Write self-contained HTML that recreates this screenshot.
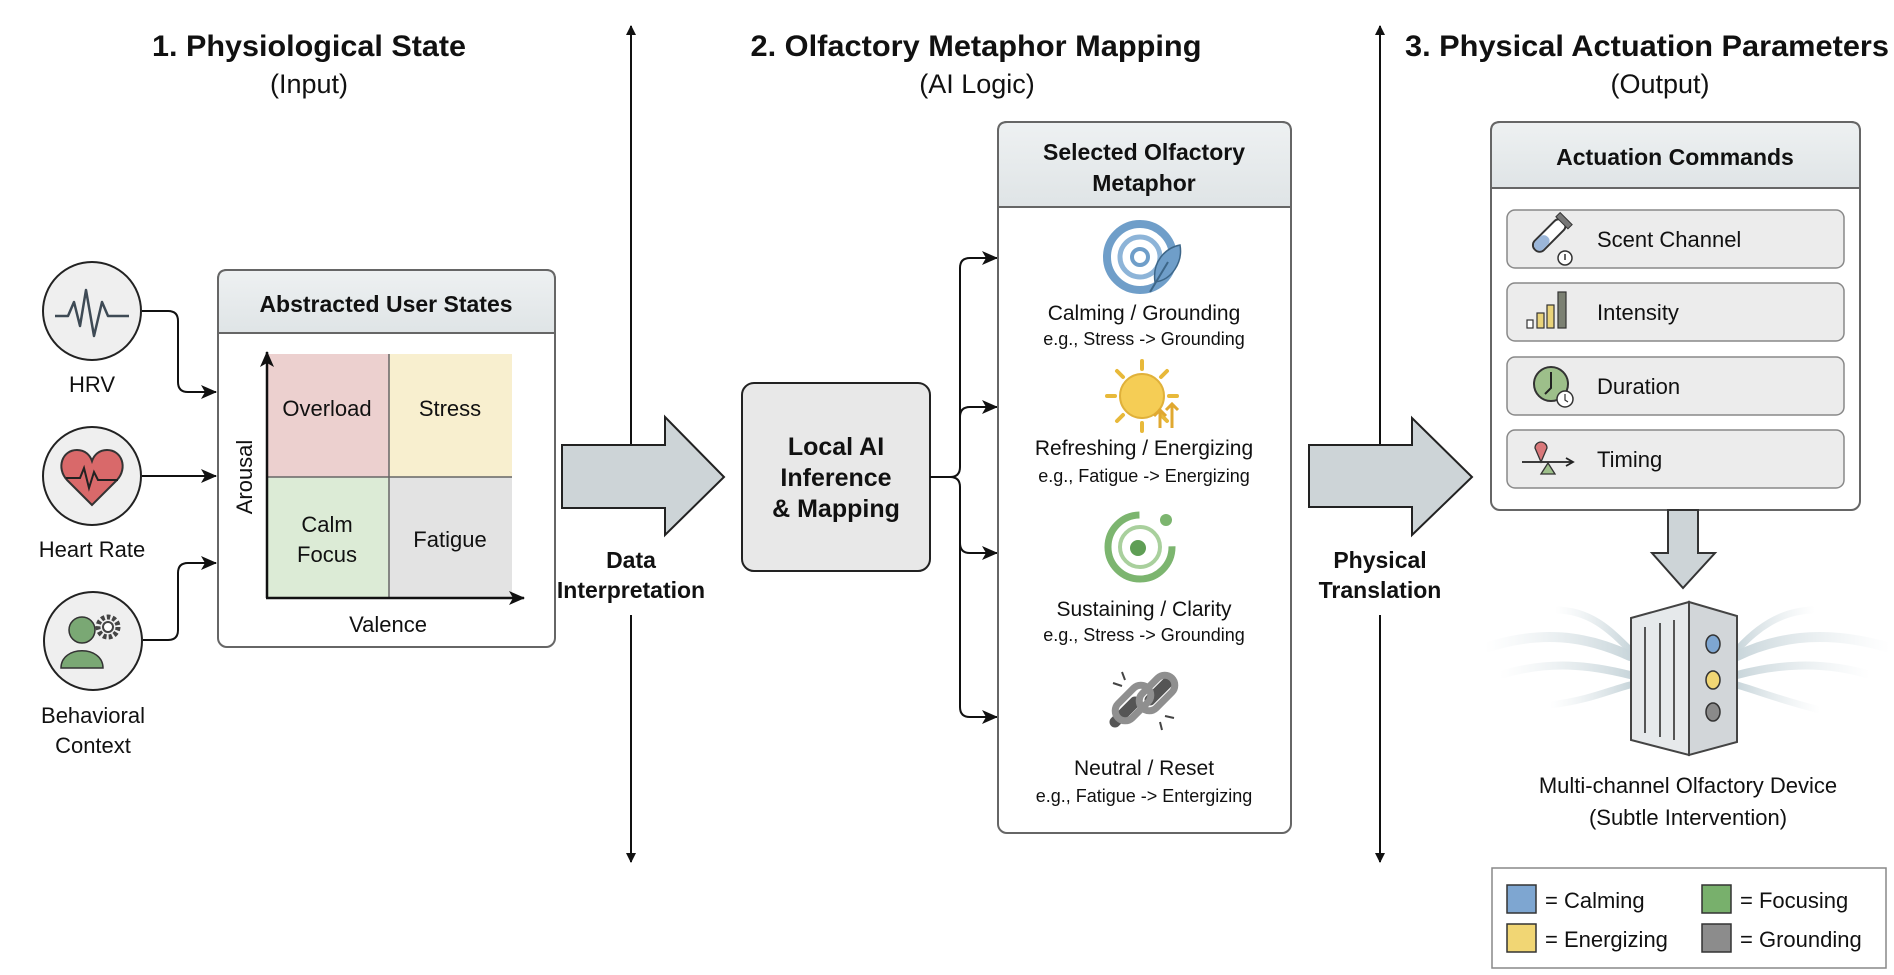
<!DOCTYPE html>
<html><head><meta charset="utf-8"><style>
html,body{margin:0;padding:0;background:#fff;}
svg{display:block;font-family:"Liberation Sans",Arial,sans-serif;}
</style></head><body>
<svg width="1894" height="975" viewBox="0 0 1894 975" xmlns="http://www.w3.org/2000/svg">
<defs>
<marker id="ah" markerWidth="10" markerHeight="10" refX="9" refY="5" orient="auto" markerUnits="userSpaceOnUse"><path d="M0,0 L10,5 L0,10 Z" fill="#111"/></marker>
<marker id="ahb" markerWidth="16" markerHeight="14" refX="15" refY="7" orient="auto" markerUnits="userSpaceOnUse"><path d="M0,0 L16,7 L0,14 L4,7 Z" fill="#111"/></marker>
<linearGradient id="hg" x1="0" y1="0" x2="0" y2="1"><stop offset="0" stop-color="#eef1f2"/><stop offset="1" stop-color="#dfe4e6"/></linearGradient>
<linearGradient id="wv" x1="0" y1="0" x2="1" y2="0"><stop offset="0" stop-color="#dfe7ea" stop-opacity="0"/><stop offset="1" stop-color="#c9d6db"/></linearGradient>
<linearGradient id="wv2" x1="1" y1="0" x2="0" y2="0"><stop offset="0" stop-color="#dfe7ea" stop-opacity="0"/><stop offset="1" stop-color="#c9d6db"/></linearGradient>
</defs>

<!-- Titles -->
<g fill="#111" text-anchor="middle">
<text x="309" y="56" font-size="30" font-weight="bold" textLength="314" lengthAdjust="spacingAndGlyphs">1. Physiological State</text>
<text x="309" y="93" font-size="27">(Input)</text>
<text x="976" y="56" font-size="30" font-weight="bold" textLength="451" lengthAdjust="spacingAndGlyphs">2. Olfactory Metaphor Mapping</text>
<text x="977" y="93" font-size="27">(AI Logic)</text>
<text x="1647" y="56" font-size="30" font-weight="bold" textLength="484" lengthAdjust="spacingAndGlyphs">3. Physical Actuation Parameters</text>
<text x="1660" y="93" font-size="27">(Output)</text>
</g>

<!-- Dividers -->
<g stroke="#111" stroke-width="2" fill="none">
<line x1="631" y1="445" x2="631" y2="26" marker-end="url(#ah)"/>
<line x1="631" y1="615" x2="631" y2="862" marker-end="url(#ah)"/>
<line x1="1380" y1="445" x2="1380" y2="26" marker-end="url(#ah)"/>
<line x1="1380" y1="615" x2="1380" y2="862" marker-end="url(#ah)"/>
</g>

<!-- Input circles -->
<g stroke="#222" stroke-width="2">
<circle cx="92" cy="311" r="49" fill="#efefef"/>
<circle cx="92" cy="476" r="49" fill="#efefef"/>
<circle cx="93" cy="641" r="49" fill="#efefef"/>
</g>
<polyline points="55,316 68,316 74,302 80,326 86,290 94,336 102,302 108,316 129,316" fill="none" stroke="#3e4a55" stroke-width="2.5" stroke-linejoin="round"/>
<path d="M92,505 L67,480 C56,468 62,450 77,450 C85,450 90,455 92,461 C94,455 99,450 107,450 C122,450 128,468 117,480 Z" fill="#d9696a" stroke="#333" stroke-width="2"/>
<polyline points="66,478 80,478 84,468 89,488 94,472 98,480 118,480" fill="none" stroke="#222" stroke-width="2"/>
<circle cx="82" cy="630" r="13" fill="#7aa874" stroke="#333" stroke-width="1.5"/>
<path d="M61,668 C61,645 103,645 103,668 Z" fill="#7aa874" stroke="#333" stroke-width="1.5"/>
<circle cx="108" cy="627" r="10" fill="none" stroke="#444" stroke-width="5" stroke-dasharray="3.5 2.2"/>
<circle cx="108" cy="627" r="5" fill="#fff" stroke="#444" stroke-width="2"/>
<g fill="#111" font-size="22" text-anchor="middle">
<text x="92" y="392">HRV</text>
<text x="92" y="557">Heart Rate</text>
<text x="93" y="723">Behavioral</text>
<text x="93" y="753">Context</text>
</g>
<g stroke="#111" stroke-width="2" fill="none">
<path d="M142,311 L168,311 Q178,311 178,321 L178,382 Q178,392 188,392 L216,392" marker-end="url(#ahb)"/>
<line x1="142" y1="476" x2="216" y2="476" marker-end="url(#ahb)"/>
<path d="M143,640 L168,640 Q178,640 178,630 L178,573 Q178,563 188,563 L216,563" marker-end="url(#ahb)"/>
</g>

<!-- Abstracted User States -->
<rect x="218" y="270" width="337" height="377" rx="9" fill="#fff" stroke="#666" stroke-width="2"/>
<path d="M218,333 L218,279 Q218,270 227,270 L546,270 Q555,270 555,279 L555,333 Z" fill="url(#hg)" stroke="#666" stroke-width="2"/>
<text x="386" y="312" font-size="23" font-weight="bold" text-anchor="middle" fill="#111">Abstracted User States</text>
<rect x="267" y="354" width="122" height="123" fill="#ecd0cf"/>
<rect x="389" y="354" width="123" height="123" fill="#f8efcf"/>
<rect x="267" y="477" width="122" height="121" fill="#dcebd6"/>
<rect x="389" y="477" width="123" height="121" fill="#e3e3e3"/>
<line x1="389" y1="354" x2="389" y2="598" stroke="#666" stroke-width="1.5"/>
<line x1="267" y1="477" x2="512" y2="477" stroke="#666" stroke-width="1.5"/>
<g stroke="#111" stroke-width="2.5" fill="none">
<line x1="267" y1="598" x2="267" y2="352" marker-end="url(#ahb)"/>
<line x1="266" y1="598" x2="524" y2="598" marker-end="url(#ahb)"/>
</g>
<g fill="#111" font-size="22" text-anchor="middle">
<text x="327" y="416">Overload</text>
<text x="450" y="416">Stress</text>
<text x="327" y="532">Calm</text>
<text x="327" y="562">Focus</text>
<text x="450" y="547">Fatigue</text>
<text x="388" y="632">Valence</text>
<text transform="translate(252,477) rotate(-90)">Arousal</text>
</g>

<!-- Big arrow 1 -->
<path d="M562,445 L665,445 L665,417 L724,477 L665,535 L665,508 L562,508 Z" fill="#cdd4d7" stroke="#222" stroke-width="2"/>
<g fill="#111" font-size="23" font-weight="bold" text-anchor="middle">
<text x="631" y="568">Data</text>
<text x="631" y="598">Interpretation</text>
</g>

<!-- Local AI box -->
<rect x="742" y="383" width="188" height="188" rx="12" fill="#e8e8e8" stroke="#222" stroke-width="2"/>
<g fill="#111" font-size="25" font-weight="bold" text-anchor="middle">
<text x="836" y="455">Local AI</text>
<text x="836" y="486">Inference</text>
<text x="836" y="517">&amp; Mapping</text>
</g>
<g stroke="#111" stroke-width="2" fill="none">
<line x1="930" y1="477" x2="950" y2="477"/>
<path d="M950,477 Q960,477 960,467 L960,268 Q960,258 970,258 L997,258" marker-end="url(#ahb)"/>
<path d="M960,417 Q960,407 970,407 L997,407" marker-end="url(#ahb)"/>
<path d="M950,477 Q960,477 960,487 L960,543 Q960,553 970,553 L997,553" marker-end="url(#ahb)"/>
<path d="M960,707 Q960,717 970,717 L997,717" marker-end="url(#ahb)"/>
<line x1="960" y1="487" x2="960" y2="707"/>
</g>

<!-- Selected Olfactory Metaphor -->
<rect x="998" y="122" width="293" height="711" rx="9" fill="#fff" stroke="#666" stroke-width="2"/>
<path d="M998,207 L998,131 Q998,122 1007,122 L1282,122 Q1291,122 1291,131 L1291,207 Z" fill="url(#hg)" stroke="#666" stroke-width="2"/>
<g fill="#111" font-size="23" font-weight="bold" text-anchor="middle">
<text x="1144" y="160">Selected Olfactory</text>
<text x="1144" y="191">Metaphor</text>
</g>
<!-- calming icon -->
<circle cx="1140" cy="257" r="33" fill="none" stroke="#6f9ec9" stroke-width="8"/>
<circle cx="1140" cy="257" r="20" fill="none" stroke="#8db4d8" stroke-width="5"/>
<circle cx="1140" cy="257" r="8" fill="none" stroke="#6f9ec9" stroke-width="4"/>
<path d="M1155,282 C1152,262 1165,248 1180,245 C1183,262 1172,280 1155,282 Z" fill="#6f9ec9" stroke="#3d6688" stroke-width="1.5"/>
<line x1="1150" y1="292" x2="1168" y2="262" stroke="#3d6688" stroke-width="2"/>
<!-- sun -->
<g stroke="#e8b93a" stroke-width="4" stroke-linecap="round">
<line x1="1142" y1="361" x2="1142" y2="369"/><line x1="1142" y1="423" x2="1142" y2="431"/>
<line x1="1107" y1="396" x2="1115" y2="396"/><line x1="1169" y1="396" x2="1177" y2="396"/>
<line x1="1117" y1="371" x2="1123" y2="377"/><line x1="1161" y1="415" x2="1167" y2="421"/>
<line x1="1167" y1="371" x2="1161" y2="377"/><line x1="1123" y1="415" x2="1117" y2="421"/>
</g>
<circle cx="1142" cy="396" r="22" fill="#f5cd55" stroke="#e0b13a" stroke-width="2"/>
<g stroke="#e0a830" stroke-width="3" fill="none"><path d="M1160,428 L1160,410 M1154,416 L1160,410 L1166,416"/><path d="M1172,428 L1172,404 M1166,410 L1172,404 L1178,410"/></g>
<!-- green target -->
<circle cx="1140" cy="547" r="32" fill="none" stroke="#7cb56f" stroke-width="7" stroke-dasharray="150 50"/>
<circle cx="1140" cy="547" r="20" fill="none" stroke="#a9d09d" stroke-width="4"/>
<circle cx="1138" cy="548" r="8" fill="#5f9e55"/>
<circle cx="1166" cy="520" r="6" fill="#7cb56f"/>
<!-- chain -->
<g fill="none" stroke="#555" stroke-width="11" stroke-linecap="round">
<path d="M1115,722 L1135,702"/><path d="M1150,700 L1170,680"/>
</g>
<g fill="none" stroke="#999" stroke-width="7" stroke-linecap="round">
<rect x="1112" y="693" width="42" height="20" rx="10" transform="rotate(-45 1133 703)" stroke="#8f8f8f"/>
<rect x="1136" y="683" width="42" height="20" rx="10" transform="rotate(-45 1157 693)" stroke="#8f8f8f"/>
</g>
<g stroke="#444" stroke-width="2"><line x1="1113" y1="683" x2="1122" y2="686"/><line x1="1122" y1="672" x2="1125" y2="680"/><line x1="1165" y1="716" x2="1174" y2="718"/><line x1="1160" y1="722" x2="1162" y2="730"/></g>
<g fill="#111" text-anchor="middle">
<text x="1144" y="320" font-size="21">Calming / Grounding</text>
<text x="1144" y="345" font-size="18">e.g., Stress -&gt; Grounding</text>
<text x="1144" y="455" font-size="21">Refreshing / Energizing</text>
<text x="1144" y="482" font-size="18">e.g., Fatigue -&gt; Energizing</text>
<text x="1144" y="616" font-size="21">Sustaining / Clarity</text>
<text x="1144" y="641" font-size="18">e.g., Stress -&gt; Grounding</text>
<text x="1144" y="775" font-size="21">Neutral / Reset</text>
<text x="1144" y="802" font-size="18">e.g., Fatigue -&gt; Entergizing</text>
</g>

<!-- Big arrow 2 -->
<path d="M1309,445 L1412,445 L1412,418 L1472,477 L1412,535 L1412,507 L1309,507 Z" fill="#cdd4d7" stroke="#222" stroke-width="2"/>
<g fill="#111" font-size="23" font-weight="bold" text-anchor="middle">
<text x="1380" y="568">Physical</text>
<text x="1380" y="598">Translation</text>
</g>

<!-- Actuation Commands -->
<rect x="1491" y="122" width="369" height="388" rx="9" fill="#fff" stroke="#666" stroke-width="2"/>
<path d="M1491,188 L1491,131 Q1491,122 1500,122 L1851,122 Q1860,122 1860,131 L1860,188 Z" fill="url(#hg)" stroke="#666" stroke-width="2"/>
<text x="1675" y="165" font-size="23" font-weight="bold" text-anchor="middle" fill="#111">Actuation Commands</text>
<g fill="#ececec" stroke="#888" stroke-width="1.5">
<rect x="1507" y="210" width="337" height="58" rx="8"/>
<rect x="1507" y="283" width="337" height="58" rx="8"/>
<rect x="1507" y="357" width="337" height="58" rx="8"/>
<rect x="1507" y="430" width="337" height="58" rx="8"/>
</g>
<g fill="#111" font-size="22">
<text x="1597" y="247">Scent Channel</text>
<text x="1597" y="320">Intensity</text>
<text x="1597" y="394">Duration</text>
<text x="1597" y="467">Timing</text>
</g>
<!-- scent icon -->
<g transform="rotate(45 1546 238)">
<rect x="1540" y="214" width="13" height="40" rx="6" fill="#fff" stroke="#333" stroke-width="2"/>
<rect x="1541" y="236" width="11" height="17" rx="5" fill="#9bb6d9"/>
<rect x="1538" y="210" width="17" height="6" fill="#777" stroke="#333"/>
</g>
<circle cx="1565" cy="258" r="7" fill="#fff" stroke="#333" stroke-width="1.5"/>
<line x1="1565" y1="254" x2="1565" y2="260" stroke="#333" stroke-width="1.5"/>
<!-- intensity -->
<rect x="1527" y="320" width="6" height="8" fill="#fff" stroke="#333" stroke-width="1.2"/>
<rect x="1537" y="313" width="7" height="15" fill="#e9d37a" stroke="#333" stroke-width="1.2"/>
<rect x="1547" y="305" width="7" height="23" fill="#e9d37a" stroke="#333" stroke-width="1.2"/>
<rect x="1558" y="292" width="8" height="36" fill="#7b8072" stroke="#333" stroke-width="1.2"/>
<!-- duration -->
<circle cx="1551" cy="384" r="17" fill="#9dbf8a" stroke="#333" stroke-width="2"/>
<polyline points="1551,372 1551,388 1545,394" fill="none" stroke="#222" stroke-width="2"/>
<circle cx="1565" cy="399" r="8" fill="#fff" stroke="#333" stroke-width="1.5"/>
<polyline points="1565,394 1565,400 1568,402" fill="none" stroke="#333" stroke-width="1.2"/>
<!-- timing -->
<line x1="1522" y1="462" x2="1572" y2="462" stroke="#222" stroke-width="1.8"/>
<path d="M1566,458 L1573,462 L1566,466" fill="none" stroke="#222" stroke-width="1.8"/>
<path d="M1541,462 L1535,448 A6,6 0 1 1 1547,448 Z" fill="#d9787a" stroke="#333" stroke-width="1.3"/>
<path d="M1548,463 L1541,474 L1555,474 Z" fill="#9dbf8a" stroke="#333" stroke-width="1.3"/>

<!-- down arrow -->
<path d="M1668,510 L1698,510 L1698,553 L1715,553 L1683,588 L1652,553 L1668,553 Z" fill="#cdd4d7" stroke="#333" stroke-width="2"/>

<!-- device waves -->
<g fill="none" stroke-linecap="round">
<path d="M1485,648 C1540,630 1585,635 1630,656" stroke="url(#wv)" stroke-width="10"/>
<path d="M1500,675 C1550,660 1590,665 1630,675" stroke="url(#wv)" stroke-width="8"/>
<path d="M1555,610 C1590,610 1610,630 1630,650" stroke="url(#wv)" stroke-width="7"/>
<path d="M1550,705 C1590,700 1610,690 1630,685" stroke="url(#wv)" stroke-width="7"/>
<path d="M1890,648 C1830,630 1780,635 1737,656" stroke="url(#wv2)" stroke-width="10"/>
<path d="M1870,675 C1820,660 1775,665 1737,675" stroke="url(#wv2)" stroke-width="8"/>
<path d="M1815,610 C1780,610 1755,630 1737,650" stroke="url(#wv2)" stroke-width="7"/>
<path d="M1820,710 C1780,700 1755,690 1737,685" stroke="url(#wv2)" stroke-width="7"/>
</g>
<!-- device -->
<path d="M1631,618 L1689,602 L1689,755 L1631,740 Z" fill="#e6e9eb" stroke="#444" stroke-width="2"/>
<path d="M1689,602 L1737,616 L1737,742 L1689,755 Z" fill="#d2d6d9" stroke="#444" stroke-width="2"/>
<g stroke="#555" stroke-width="2"><line x1="1645" y1="627" x2="1645" y2="733"/><line x1="1660" y1="623" x2="1660" y2="737"/><line x1="1674" y1="620" x2="1674" y2="740"/></g>
<ellipse cx="1713" cy="644" rx="7" ry="9" fill="#7ea6d1" stroke="#333" stroke-width="1.5"/>
<ellipse cx="1713" cy="680" rx="7" ry="9" fill="#f1d674" stroke="#333" stroke-width="1.5"/>
<ellipse cx="1713" cy="712" rx="7" ry="9" fill="#8a8a8a" stroke="#333" stroke-width="1.5"/>
<g fill="#111" font-size="22" text-anchor="middle">
<text x="1688" y="793">Multi-channel Olfactory Device</text>
<text x="1688" y="825">(Subtle Intervention)</text>
</g>

<!-- legend -->
<rect x="1492" y="868" width="394" height="100" fill="#fff" stroke="#888" stroke-width="1.5"/>
<g stroke="#333" stroke-width="1.5">
<rect x="1507" y="885" width="29" height="28" fill="#7ea6d1"/>
<rect x="1507" y="924" width="29" height="28" fill="#f1d674"/>
<rect x="1702" y="885" width="29" height="28" fill="#78b06c"/>
<rect x="1702" y="924" width="29" height="28" fill="#8c8c8c"/>
</g>
<g fill="#111" font-size="22">
<text x="1545" y="908">= Calming</text>
<text x="1545" y="947">= Energizing</text>
<text x="1740" y="908">= Focusing</text>
<text x="1740" y="947">= Grounding</text>
</g>
</svg>
</body></html>
